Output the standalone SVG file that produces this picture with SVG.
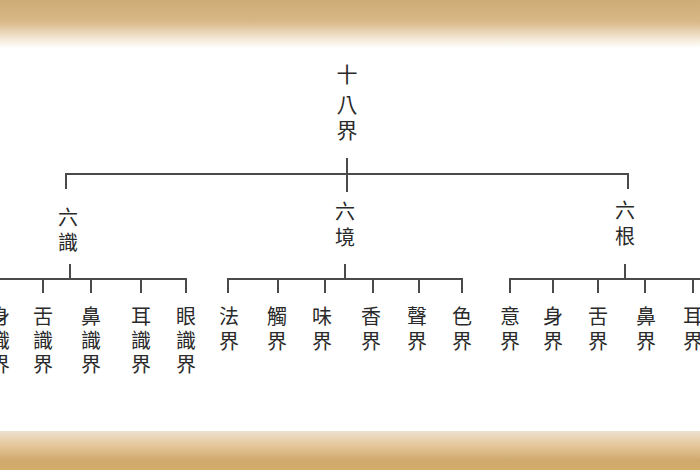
<svg xmlns="http://www.w3.org/2000/svg" width="700" height="470" viewBox="0 0 700 470">
<defs>
<linearGradient id="gTop" x1="0" y1="0" x2="0" y2="1">
<stop offset="0" stop-color="#cdac75"/>
<stop offset="0.45" stop-color="#d8b887"/>
<stop offset="0.8" stop-color="#f3e7d4"/>
<stop offset="1" stop-color="#ffffff"/>
</linearGradient>
<linearGradient id="gBot" x1="0" y1="0" x2="0" y2="1">
<stop offset="0" stop-color="#ece0cf"/>
<stop offset="0.4" stop-color="#e4c597"/>
<stop offset="0.75" stop-color="#cfa96d"/>
<stop offset="1" stop-color="#d3ab6a"/>
</linearGradient>
<style>
.t{font-family:"Noto Sans CJK TC","Noto Sans CJK SC",sans-serif;font-size:20px;fill:#2a2a2a;text-anchor:middle}
.tt{font-size:21px}
.c line{stroke:#4a4a4a;stroke-width:2}
</style>
</defs>
<rect width="700" height="470" fill="#ffffff"/>
<rect x="0" y="0" width="700" height="48" fill="url(#gTop)"/>
<rect x="0" y="431" width="700" height="39" fill="url(#gBot)"/>
<g class="c" id="connectors">
<line x1="347" y1="158" x2="347" y2="192"/>
<line x1="65" y1="174" x2="629" y2="174"/>
<line x1="66" y1="173" x2="66" y2="189"/>
<line x1="628" y1="173" x2="628" y2="189"/>
<line x1="70" y1="264" x2="70" y2="279"/>
<line x1="0" y1="279" x2="187" y2="279"/>
<line x1="43" y1="278" x2="43" y2="293"/>
<line x1="91" y1="278" x2="91" y2="293"/>
<line x1="141" y1="278" x2="141" y2="293"/>
<line x1="186" y1="278" x2="186" y2="293"/>
<line x1="345" y1="264" x2="345" y2="279"/>
<line x1="227" y1="279" x2="463" y2="279"/>
<line x1="228" y1="278" x2="228" y2="293"/>
<line x1="278" y1="278" x2="278" y2="293"/>
<line x1="325" y1="278" x2="325" y2="293"/>
<line x1="373" y1="278" x2="373" y2="293"/>
<line x1="419" y1="278" x2="419" y2="293"/>
<line x1="462" y1="278" x2="462" y2="293"/>
<line x1="625" y1="264" x2="625" y2="279"/>
<line x1="509" y1="279" x2="700" y2="279"/>
<line x1="510" y1="278" x2="510" y2="293"/>
<line x1="553" y1="278" x2="553" y2="293"/>
<line x1="598" y1="278" x2="598" y2="293"/>
<line x1="645" y1="278" x2="645" y2="293"/>
<line x1="693" y1="278" x2="693" y2="293"/>
</g>
<g id="root"><text class="t tt" x="347" y="82">十</text><text class="t tt" x="347" y="112">八</text><text class="t tt" x="347" y="138">界</text></g>
<g id="liushi"><text class="t" x="68" y="225">六</text><text class="t" x="68" y="250">識</text></g>
<g id="liujing"><text class="t" x="345" y="219">六</text><text class="t" x="345" y="245">境</text></g>
<g id="liugen"><text class="t" x="625" y="218">六</text><text class="t" x="625" y="244">根</text></g>
<g id="shen-shi"><text class="t" x="0" y="324">身</text><text class="t" x="0" y="348">識</text><text class="t" x="0" y="372">界</text></g>
<g id="she-shi"><text class="t" x="43" y="324">舌</text><text class="t" x="43" y="348">識</text><text class="t" x="43" y="372">界</text></g>
<g id="bi-shi"><text class="t" x="91" y="324">鼻</text><text class="t" x="91" y="348">識</text><text class="t" x="91" y="372">界</text></g>
<g id="er-shi"><text class="t" x="141" y="324">耳</text><text class="t" x="141" y="348">識</text><text class="t" x="141" y="372">界</text></g>
<g id="yan-shi"><text class="t" x="186" y="324">眼</text><text class="t" x="186" y="348">識</text><text class="t" x="186" y="372">界</text></g>
<g id="fa"><text class="t" x="229" y="324">法</text><text class="t" x="229" y="349">界</text></g>
<g id="chu"><text class="t" x="277" y="324">觸</text><text class="t" x="277" y="349">界</text></g>
<g id="wei"><text class="t" x="322" y="324">味</text><text class="t" x="322" y="349">界</text></g>
<g id="xiang"><text class="t" x="371" y="324">香</text><text class="t" x="371" y="349">界</text></g>
<g id="sheng"><text class="t" x="417" y="324">聲</text><text class="t" x="417" y="349">界</text></g>
<g id="se"><text class="t" x="462" y="324">色</text><text class="t" x="462" y="349">界</text></g>
<g id="yi"><text class="t" x="510" y="324">意</text><text class="t" x="510" y="349">界</text></g>
<g id="shen"><text class="t" x="553" y="324">身</text><text class="t" x="553" y="349">界</text></g>
<g id="she"><text class="t" x="598" y="324">舌</text><text class="t" x="598" y="349">界</text></g>
<g id="bi"><text class="t" x="646" y="324">鼻</text><text class="t" x="646" y="349">界</text></g>
<g id="er"><text class="t" x="693" y="324">耳</text><text class="t" x="693" y="349">界</text></g>
</svg>
